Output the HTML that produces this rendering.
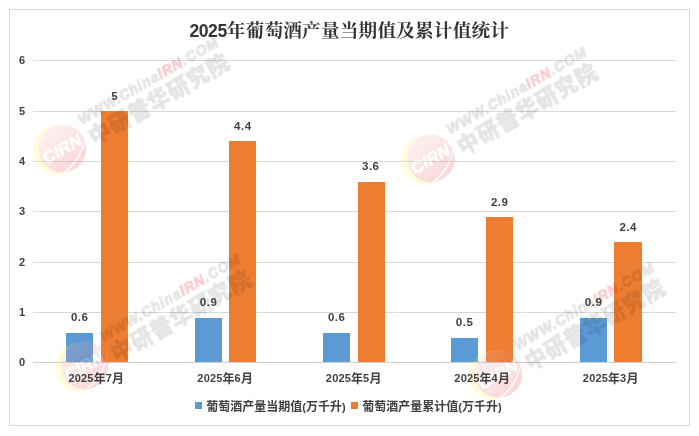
<!DOCTYPE html>
<html lang="zh-CN">
<head>
<meta charset="utf-8">
<title>2025年葡萄酒产量当期值及累计值统计</title>
<style>
html,body{margin:0;padding:0;background:#fff;}
body{width:699px;height:436px;overflow:hidden;}
svg{display:block;}
.num{font-family:"Liberation Sans",sans-serif;font-weight:bold;fill:#404040;}
.cjk{font-family:"Liberation Sans","Noto Serif CJK SC",serif;font-weight:bold;fill:#404040;}
.cjk2{font-family:"Liberation Sans","Noto Sans CJK SC",sans-serif;font-weight:bold;fill:#404040;}
.ttl{font-family:"Liberation Sans","Noto Serif CJK SC",serif;font-weight:bold;fill:#333;}
</style>
</head>
<body>
<svg width="699" height="436" viewBox="0 0 699 436">
<rect x="0" y="0" width="699" height="436" fill="#fff"/>
<!-- chart border -->
<rect x="9.5" y="9.5" width="680" height="416" fill="none" stroke="#d9d9d9" stroke-width="1"/>
<!-- gridlines -->
<g stroke="#d9d9d9" stroke-width="1" shape-rendering="crispEdges">
<line x1="33" x2="676" y1="60.5" y2="60.5"/>
<line x1="33" x2="676" y1="111.5" y2="111.5"/>
<line x1="33" x2="676" y1="161.5" y2="161.5"/>
<line x1="33" x2="676" y1="211.5" y2="211.5"/>
<line x1="33" x2="676" y1="262.5" y2="262.5"/>
<line x1="33" x2="676" y1="312.5" y2="312.5"/>
</g>
<!-- bars -->
<g fill="#5b9bd5" shape-rendering="crispEdges">
<rect x="66" y="333" width="27" height="29"/>
<rect x="195" y="318" width="27" height="44"/>
<rect x="323" y="333" width="27" height="29"/>
<rect x="451" y="338" width="27" height="24"/>
<rect x="580" y="318" width="27" height="44"/>
</g>
<g fill="#ed7d31" shape-rendering="crispEdges">
<rect x="101" y="111" width="27" height="251"/>
<rect x="229" y="141" width="27" height="221"/>
<rect x="358" y="182" width="27" height="180"/>
<rect x="486" y="217" width="27" height="145"/>
<rect x="614" y="242" width="28" height="120"/>
</g>
<!-- axis line -->
<line x1="33" x2="676" y1="362.5" y2="362.5" stroke="#d0d0d0" stroke-width="1" shape-rendering="crispEdges"/>
<!-- WM-START -->
<defs><linearGradient id="pg" x1="0.15" y1="0.1" x2="0.85" y2="0.9"><stop offset="0" stop-color="#f6baba"/><stop offset="1" stop-color="#e83a40"/></linearGradient></defs>
<g>
<g transform="translate(62.6,148.6)">
<g opacity="0.2" style="filter:blur(0.4px)">
<circle cx="-4.8" cy="1.5" r="24.6" fill="#fff450"/>
<circle cx="0" cy="0" r="23.8" fill="url(#pg)"/>
<path d="M0,24.8 C9,20.5 19,10 22.6,-11 C18.5,8 8,18.5 0,24.8 Z" fill="#fff" stroke="#fff" stroke-width="0.5"/>
<g transform="rotate(-30)">
<text x="-22" y="6" font-family="'Liberation Sans',sans-serif" font-weight="bold" font-style="italic" font-size="17" fill="#fff" stroke="#fff" stroke-width="0.5" textLength="42.5" lengthAdjust="spacingAndGlyphs">CIRN</text>
</g>
</g>
<g transform="rotate(-30)" style="mix-blend-mode:multiply;filter:blur(0.4px)">
<text x="28.5" y="-11.3" font-family="'Liberation Sans',sans-serif" font-weight="bold" font-style="italic" font-size="14" letter-spacing="1.1" fill="#e5e5e5" stroke="#e5e5e5" stroke-width="0.9" stroke-linejoin="round">WWW.China<tspan fill="#f9cfd1" stroke="#f9cfd1">IRN</tspan>.COM</text>
<text x="29.3" y="12.8" font-family="'Liberation Sans','Noto Sans CJK SC',sans-serif" font-weight="900" font-size="21.5" letter-spacing="1.1" fill="#e5e5e5" stroke="#e5e5e5" stroke-width="0.6" stroke-linejoin="round">中研普华研究院</text>
</g>
</g>
<g transform="translate(431,158.5)">
<g opacity="0.2" style="filter:blur(0.4px)">
<circle cx="-4.8" cy="1.5" r="24.6" fill="#fff450"/>
<circle cx="0" cy="0" r="23.8" fill="url(#pg)"/>
<path d="M0,24.8 C9,20.5 19,10 22.6,-11 C18.5,8 8,18.5 0,24.8 Z" fill="#fff" stroke="#fff" stroke-width="0.5"/>
<g transform="rotate(-30)">
<text x="-22" y="6" font-family="'Liberation Sans',sans-serif" font-weight="bold" font-style="italic" font-size="17" fill="#fff" stroke="#fff" stroke-width="0.5" textLength="42.5" lengthAdjust="spacingAndGlyphs">CIRN</text>
</g>
</g>
<g transform="rotate(-30)" style="mix-blend-mode:multiply;filter:blur(0.4px)">
<text x="28.5" y="-11.3" font-family="'Liberation Sans',sans-serif" font-weight="bold" font-style="italic" font-size="14" letter-spacing="1.1" fill="#e5e5e5" stroke="#e5e5e5" stroke-width="0.9" stroke-linejoin="round">WWW.China<tspan fill="#f9cfd1" stroke="#f9cfd1">IRN</tspan>.COM</text>
<text x="29.3" y="12.8" font-family="'Liberation Sans','Noto Sans CJK SC',sans-serif" font-weight="900" font-size="21.5" letter-spacing="1.1" fill="#e5e5e5" stroke="#e5e5e5" stroke-width="0.6" stroke-linejoin="round">中研普华研究院</text>
</g>
</g>
<g transform="translate(84.7,365.5)">
<g opacity="0.2" style="filter:blur(0.4px)">
<circle cx="-4.8" cy="1.5" r="24.6" fill="#fff450"/>
<circle cx="0" cy="0" r="23.8" fill="url(#pg)"/>
<path d="M0,24.8 C9,20.5 19,10 22.6,-11 C18.5,8 8,18.5 0,24.8 Z" fill="#fff" stroke="#fff" stroke-width="0.5"/>
<g transform="rotate(-30)">
<text x="-22" y="6" font-family="'Liberation Sans',sans-serif" font-weight="bold" font-style="italic" font-size="17" fill="#fff" stroke="#fff" stroke-width="0.5" textLength="42.5" lengthAdjust="spacingAndGlyphs">CIRN</text>
</g>
</g>
<g transform="rotate(-30)" style="mix-blend-mode:multiply;filter:blur(0.4px)">
<text x="28.5" y="-11.3" font-family="'Liberation Sans',sans-serif" font-weight="bold" font-style="italic" font-size="14" letter-spacing="1.1" fill="#e5e5e5" stroke="#e5e5e5" stroke-width="0.9" stroke-linejoin="round">WWW.China<tspan fill="#f9cfd1" stroke="#f9cfd1">IRN</tspan>.COM</text>
<text x="29.3" y="12.8" font-family="'Liberation Sans','Noto Sans CJK SC',sans-serif" font-weight="900" font-size="21.5" letter-spacing="1.1" fill="#e5e5e5" stroke="#e5e5e5" stroke-width="0.6" stroke-linejoin="round">中研普华研究院</text>
</g>
</g>
<g transform="translate(498.5,374)">
<g opacity="0.2" style="filter:blur(0.4px)">
<circle cx="-4.8" cy="1.5" r="24.6" fill="#fff450"/>
<circle cx="0" cy="0" r="23.8" fill="url(#pg)"/>
<path d="M0,24.8 C9,20.5 19,10 22.6,-11 C18.5,8 8,18.5 0,24.8 Z" fill="#fff" stroke="#fff" stroke-width="0.5"/>
<g transform="rotate(-30)">
<text x="-22" y="6" font-family="'Liberation Sans',sans-serif" font-weight="bold" font-style="italic" font-size="17" fill="#fff" stroke="#fff" stroke-width="0.5" textLength="42.5" lengthAdjust="spacingAndGlyphs">CIRN</text>
</g>
</g>
<g transform="rotate(-30)" style="mix-blend-mode:multiply;filter:blur(0.4px)">
<text x="28.5" y="-11.3" font-family="'Liberation Sans',sans-serif" font-weight="bold" font-style="italic" font-size="14" letter-spacing="1.1" fill="#e5e5e5" stroke="#e5e5e5" stroke-width="0.9" stroke-linejoin="round">WWW.China<tspan fill="#f9cfd1" stroke="#f9cfd1">IRN</tspan>.COM</text>
<text x="29.3" y="12.8" font-family="'Liberation Sans','Noto Sans CJK SC',sans-serif" font-weight="900" font-size="21.5" letter-spacing="1.1" fill="#e5e5e5" stroke="#e5e5e5" stroke-width="0.6" stroke-linejoin="round">中研普华研究院</text>
</g>
</g>
</g>
<!-- WM-END -->
<!-- y axis labels -->
<g class="num" font-size="11" text-anchor="end">
<text x="25" y="64">6</text>
<text x="25" y="115">5</text>
<text x="25" y="165">4</text>
<text x="25" y="215">3</text>
<text x="25" y="266">2</text>
<text x="25" y="316">1</text>
<text x="25" y="366">0</text>
</g>
<!-- data labels -->
<g class="num" font-size="11.5" letter-spacing="0.5" text-anchor="middle">
<text x="79.65" y="321">0.6</text>
<text x="208.55" y="306.3">0.9</text>
<text x="336.65" y="321">0.6</text>
<text x="464.55" y="326">0.5</text>
<text x="593.55" y="306.3">0.9</text>
<text x="114.75" y="100">5</text>
<text x="242.85" y="130">4.4</text>
<text x="370.75" y="170">3.6</text>
<text x="499.65" y="206">2.9</text>
<text x="628.25" y="231">2.4</text>
</g>
<!-- category labels -->
<g class="cjk2" font-size="12" letter-spacing="0.15" text-anchor="middle">
<text x="96.4" y="382"><tspan class="num" font-size="11">2025</tspan><tspan dy="1">年</tspan><tspan class="num" font-size="11" dy="-1">7</tspan><tspan dy="1">月</tspan></text>
<text x="225.2" y="382"><tspan class="num" font-size="11">2025</tspan><tspan dy="1">年</tspan><tspan class="num" font-size="11" dy="-1">6</tspan><tspan dy="1">月</tspan></text>
<text x="353.7" y="382"><tspan class="num" font-size="11">2025</tspan><tspan dy="1">年</tspan><tspan class="num" font-size="11" dy="-1">5</tspan><tspan dy="1">月</tspan></text>
<text x="482.2" y="382"><tspan class="num" font-size="11">2025</tspan><tspan dy="1">年</tspan><tspan class="num" font-size="11" dy="-1">4</tspan><tspan dy="1">月</tspan></text>
<text x="610.7" y="382"><tspan class="num" font-size="11">2025</tspan><tspan dy="1">年</tspan><tspan class="num" font-size="11" dy="-1">3</tspan><tspan dy="1">月</tspan></text>
</g>
<!-- legend -->
<rect x="195" y="402" width="7" height="7" fill="#5b9bd5" shape-rendering="crispEdges"/>
<text class="cjk2" font-size="12" x="206.3" y="410.7">葡萄酒产量当期值<tspan class="num" font-size="11">(</tspan>万千升<tspan class="num" font-size="11">)</tspan></text>
<rect x="351" y="402" width="7" height="7" fill="#ed7d31" shape-rendering="crispEdges"/>
<text class="cjk2" font-size="12" x="362.3" y="410.7">葡萄酒产量累计值<tspan class="num" font-size="11">(</tspan>万千升<tspan class="num" font-size="11">)</tspan></text>
<!-- title -->
<text class="ttl" font-size="18.67" letter-spacing="0.17" x="349.3" y="37.3" text-anchor="middle"><tspan font-size="17.6" letter-spacing="-0.45" dy="-0.5">2025</tspan><tspan dy="0.5">年葡萄酒产量当期值及累计值统计</tspan></text>
</svg>
</body>
</html>
